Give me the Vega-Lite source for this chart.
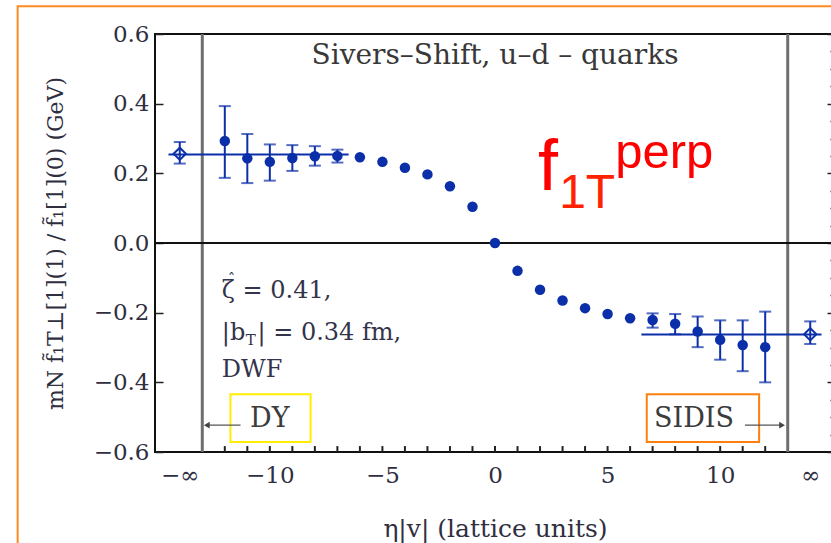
{
  "$schema": "https://vega.github.io/schema/vega-lite/v6.json",
  "width": 680,
  "height": 418,
  "autosize": {"type": "none"},
  "padding": {"left": 155, "top": 34, "right": 0, "bottom": 91},
  "background": "white",
  "config": {
    "view": {"stroke": "#111111", "strokeWidth": 2},
    "axis": {"grid": false, "domain": false, "tickColor": "#222222", "tickWidth": 1.5,
             "labelFont": "DejaVu Serif", "labelColor": "#2f2f3f", "titleFont": "DejaVu Serif",
             "titleFontWeight": "normal", "titleColor": "#2f2f3f", "labelOverlap": false,
             "labelFlush": false, "labelBound": false}
  },
  "datasets": {
    "pts": [
      {"x": -14, "y": 0.256, "lo": 0.228, "hi": 0.290, "kind": "inf"},
      {"x": -12, "y": 0.293, "lo": 0.187, "hi": 0.393, "kind": "lat"},
      {"x": -11, "y": 0.243, "lo": 0.172, "hi": 0.313, "kind": "lat"},
      {"x": -10, "y": 0.233, "lo": 0.179, "hi": 0.283, "kind": "lat"},
      {"x": -9, "y": 0.244, "lo": 0.207, "hi": 0.281, "kind": "lat"},
      {"x": -8, "y": 0.249, "lo": 0.222, "hi": 0.278, "kind": "lat"},
      {"x": -7, "y": 0.250, "lo": 0.231, "hi": 0.268, "kind": "lat"},
      {"x": -6, "y": 0.246, "lo": null, "hi": null, "kind": "lat"},
      {"x": -5, "y": 0.233, "lo": null, "hi": null, "kind": "lat"},
      {"x": -4, "y": 0.216, "lo": null, "hi": null, "kind": "lat"},
      {"x": -3, "y": 0.197, "lo": null, "hi": null, "kind": "lat"},
      {"x": -2, "y": 0.163, "lo": null, "hi": null, "kind": "lat"},
      {"x": -1, "y": 0.104, "lo": null, "hi": null, "kind": "lat"},
      {"x": 0, "y": 0.0, "lo": null, "hi": null, "kind": "lat"},
      {"x": 1, "y": -0.080, "lo": null, "hi": null, "kind": "lat"},
      {"x": 2, "y": -0.134, "lo": null, "hi": null, "kind": "lat"},
      {"x": 3, "y": -0.165, "lo": null, "hi": null, "kind": "lat"},
      {"x": 4, "y": -0.187, "lo": null, "hi": null, "kind": "lat"},
      {"x": 5, "y": -0.204, "lo": null, "hi": null, "kind": "lat"},
      {"x": 6, "y": -0.216, "lo": null, "hi": null, "kind": "lat"},
      {"x": 7, "y": -0.221, "lo": -0.243, "hi": -0.202, "kind": "lat"},
      {"x": 8, "y": -0.232, "lo": -0.262, "hi": -0.204, "kind": "lat"},
      {"x": 9, "y": -0.254, "lo": -0.299, "hi": -0.211, "kind": "lat"},
      {"x": 10, "y": -0.278, "lo": -0.335, "hi": -0.222, "kind": "lat"},
      {"x": 11, "y": -0.293, "lo": -0.368, "hi": -0.222, "kind": "lat"},
      {"x": 12, "y": -0.299, "lo": -0.400, "hi": -0.197, "kind": "lat"},
      {"x": 14, "y": -0.262, "lo": -0.290, "hi": -0.225, "kind": "inf"}
    ]
  },
  "layer": [
    {
      "layer": [
        {
          "data": {"values": [{"x": -21.2, "x2": 16, "y": 0.68, "y2": -0.95}]},
          "mark": {"type": "rect", "fillOpacity": 0, "stroke": "#ff8a1f", "strokeWidth": 2, "clip": false},
          "encoding": {
            "x": {"field": "x", "type": "quantitative",
                  "title": "η|v|  (lattice units)",
                  "scale": {"domain": [-15.1, 15.1], "zero": false, "nice": false},
                  "axis": {
                    "values": [-14, -10, -5, 0, 5, 10, 14],
                    "labelExpr": "datum.value == -14 ? '−∞' : datum.value == 14 ? '∞' : format(datum.value, 'd')",
                    "labelOverlap": false,
                    "ticks": false,
                    "labelFontSize": 23, "labelPadding": 12,
                    "titleFontSize": 25, "titlePadding": 29
                  }},
            "x2": {"field": "x2"},
            "y": {"field": "y", "type": "quantitative",
                  "title": "mN f̃₁T⊥[1](1) / f̃₁[1](0)  (GeV)",
                  "scale": {"domain": [-0.6, 0.6], "zero": false, "nice": false},
                  "axis": {
                    "values": [-0.6, -0.55, -0.5, -0.45, -0.4, -0.35, -0.3, -0.25, -0.2, -0.15, -0.1, -0.05, 0, 0.05, 0.1, 0.15, 0.2, 0.25, 0.3, 0.35, 0.4, 0.45, 0.5, 0.55, 0.6],
                    "labelExpr": "abs(round(datum.value*20)) % 4 == 0 ? format(datum.value, '.1f') : ''",
                    "labelOverlap": false,
                    "tickSize": {"condition": {"test": "abs(round(datum.value*20)) % 4 == 0", "value": -8}, "value": -5},
                    "labelFontSize": 23, "labelPadding": 14,
                    "titleFontSize": 22, "titlePadding": 26
                  }},
            "y2": {"field": "y2"}
          }
        },
        {
          "data": {"values": [{"x": -12}, {"x": -11}, {"x": -10}, {"x": -9}, {"x": -8}, {"x": -7}, {"x": -6}, {"x": -5}, {"x": -4}, {"x": -3}, {"x": -2}, {"x": -1}, {"x": 0}, {"x": 1}, {"x": 2}, {"x": 3}, {"x": 4}, {"x": 5}, {"x": 6}, {"x": 7}, {"x": 8}, {"x": 9}, {"x": 10}, {"x": 11}, {"x": 12}]},
          "mark": {"type": "rule", "color": "#222222", "strokeWidth": 2},
          "encoding": {
            "x": {"field": "x", "type": "quantitative", "title": "η|v|  (lattice units)"},
            "y": {"datum": -0.6, "type": "quantitative", "title": "mN f̃₁T⊥[1](1) / f̃₁[1](0)  (GeV)"},
            "y2": {"datum": -0.583}
          }
        },
        {
          "data": {"values": [{"x": -13}, {"x": 13}]},
          "mark": {"type": "rule", "color": "#6e6e6e", "strokeWidth": 3},
          "encoding": {"x": {"field": "x", "type": "quantitative", "title": "η|v|  (lattice units)"}}
        },
        {
          "data": {"values": [{"y": 0}]},
          "mark": {"type": "rule", "color": "#111111", "strokeWidth": 2},
          "encoding": {"y": {"field": "y", "type": "quantitative", "title": "mN f̃₁T⊥[1](1) / f̃₁[1](0)  (GeV)"}}
        },
        {
          "data": {"values": [{"x": -14.5, "x2": -6.5, "y": 0.254}, {"x": 6.5, "x2": 14.5, "y": -0.263}]},
          "mark": {"type": "rule", "color": "#0b2fa8", "strokeWidth": 2},
          "encoding": {
            "x": {"field": "x", "type": "quantitative", "title": "η|v|  (lattice units)"},
            "x2": {"field": "x2"},
            "y": {"field": "y", "type": "quantitative", "title": "mN f̃₁T⊥[1](1) / f̃₁[1](0)  (GeV)"}
          }
        },
        {
          "data": {"name": "pts"},
          "transform": [{"filter": "datum.lo != null"}],
          "mark": {"type": "errorbar", "color": "#0b2fa8", "thickness": 2, "ticks": {"size": 12, "thickness": 2, "color": "#0b2fa8"}},
          "encoding": {
            "x": {"field": "x", "type": "quantitative", "title": "η|v|  (lattice units)"},
            "y": {"field": "lo", "type": "quantitative", "title": "mN f̃₁T⊥[1](1) / f̃₁[1](0)  (GeV)"},
            "y2": {"field": "hi"}
          }
        },
        {
          "data": {"name": "pts"},
          "transform": [{"filter": "datum.kind == 'lat'"}],
          "mark": {"type": "point", "shape": "circle", "filled": true, "size": 110, "color": "#0b2fa8", "opacity": 1},
          "encoding": {
            "x": {"field": "x", "type": "quantitative", "title": "η|v|  (lattice units)"},
            "y": {"field": "y", "type": "quantitative", "title": "mN f̃₁T⊥[1](1) / f̃₁[1](0)  (GeV)"}
          }
        },
        {
          "data": {"name": "pts"},
          "transform": [{"filter": "datum.kind == 'inf'"}],
          "mark": {"type": "point", "shape": "diamond", "filled": false, "size": 150, "color": "#0b2fa8", "strokeWidth": 2, "opacity": 1},
          "encoding": {
            "x": {"field": "x", "type": "quantitative", "title": "η|v|  (lattice units)"},
            "y": {"field": "y", "type": "quantitative", "title": "mN f̃₁T⊥[1](1) / f̃₁[1](0)  (GeV)"}
          }
        },
        {
          "data": {"values": [
            {"name": "DY", "x": -11.75, "x2": -8.19, "y": -0.434, "y2": -0.571},
            {"name": "SIDIS", "x": 6.74, "x2": 11.73, "y": -0.434, "y2": -0.571}
          ]},
          "mark": {"type": "rect", "fillOpacity": 0, "strokeWidth": 2},
          "encoding": {
            "x": {"field": "x", "type": "quantitative", "title": "η|v|  (lattice units)"},
            "x2": {"field": "x2"},
            "y": {"field": "y", "type": "quantitative", "title": "mN f̃₁T⊥[1](1) / f̃₁[1](0)  (GeV)"},
            "y2": {"field": "y2"},
            "stroke": {"field": "name", "type": "nominal", "scale": {"domain": ["DY", "SIDIS"], "range": ["#ffee00", "#ff7f0e"]}, "legend": null}
          }
        },
        {
          "data": {"values": [
            {"x": -11.3, "x2": -12.8, "y": -0.523},
            {"x": 11.1, "x2": 12.75, "y": -0.523}
          ]},
          "mark": {"type": "rule", "color": "#555555", "strokeWidth": 1.3},
          "encoding": {
            "x": {"field": "x", "type": "quantitative", "title": "η|v|  (lattice units)"},
            "x2": {"field": "x2"},
            "y": {"field": "y", "type": "quantitative", "title": "mN f̃₁T⊥[1](1) / f̃₁[1](0)  (GeV)"}
          }
        },
        {
          "data": {"values": [
            {"x": -12.8, "y": -0.523, "dir": "left"},
            {"x": 12.75, "y": -0.523, "dir": "right"}
          ]},
          "mark": {"type": "point", "filled": true, "size": 45, "color": "#444444", "opacity": 1},
          "encoding": {
            "x": {"field": "x", "type": "quantitative", "title": "η|v|  (lattice units)"},
            "y": {"field": "y", "type": "quantitative", "title": "mN f̃₁T⊥[1](1) / f̃₁[1](0)  (GeV)"},
            "shape": {"field": "dir", "type": "nominal", "scale": {"domain": ["left", "right"], "range": ["triangle-left", "triangle-right"]}, "legend": null}
          }
        },
        {
          "data": {"values": [
            {"x": -10.0, "y": -0.505, "t": "DY"},
            {"x": 8.84, "y": -0.505, "t": "SIDIS"}
          ]},
          "mark": {"type": "text", "font": "DejaVu Serif", "fontSize": 27, "color": "#3c3c3c", "align": "center", "baseline": "middle"},
          "encoding": {
            "x": {"field": "x", "type": "quantitative", "title": "η|v|  (lattice units)"},
            "y": {"field": "y", "type": "quantitative", "title": "mN f̃₁T⊥[1](1) / f̃₁[1](0)  (GeV)"},
            "text": {"field": "t"}
          }
        },
        {
          "data": {"values": [{"x": 0, "y": 0.536, "t": "Sivers–Shift, u–d – quarks"}]},
          "mark": {"type": "text", "font": "DejaVu Serif", "fontSize": 28, "color": "#383838", "align": "center", "baseline": "middle"},
          "encoding": {
            "x": {"field": "x", "type": "quantitative", "title": "η|v|  (lattice units)"},
            "y": {"field": "y", "type": "quantitative", "title": "mN f̃₁T⊥[1](1) / f̃₁[1](0)  (GeV)"},
            "text": {"field": "t"}
          }
        },
        {
          "data": {"values": [
            {"x": -12.13, "y": -0.158, "t": "ζ = 0.41,"},
            {"x": -12.13, "y": -0.278, "t": "|b"},
            {"x": -10.55, "y": -0.278, "t": "| = 0.34 fm,"},
            {"x": -12.13, "y": -0.384, "t": "DWF"}
          ]},
          "mark": {"type": "text", "font": "DejaVu Serif", "fontSize": 24, "color": "#33334a", "align": "left", "baseline": "alphabetic"},
          "encoding": {
            "x": {"field": "x", "type": "quantitative", "title": "η|v|  (lattice units)"},
            "y": {"field": "y", "type": "quantitative", "title": "mN f̃₁T⊥[1](1) / f̃₁[1](0)  (GeV)"},
            "text": {"field": "t"}
          }
        },
        {
          "data": {"values": [{"x": -11.07, "y": -0.292, "t": "T"}, {"x": -11.87, "y": -0.117, "t": "ˆ"}]},
          "mark": {"type": "text", "font": "DejaVu Serif", "fontSize": 15, "color": "#33334a", "align": "left", "baseline": "alphabetic"},
          "encoding": {
            "x": {"field": "x", "type": "quantitative", "title": "η|v|  (lattice units)"},
            "y": {"field": "y", "type": "quantitative", "title": "mN f̃₁T⊥[1](1) / f̃₁[1](0)  (GeV)"},
            "text": {"field": "t"}
          }
        },
        {
          "data": {"values": [{"x": 1.91, "y": 0.153, "t": "f"}]},
          "mark": {"type": "text", "font": "Liberation Sans", "fontSize": 72, "color": "#ff0000", "align": "left", "baseline": "alphabetic"},
          "encoding": {
            "x": {"field": "x", "type": "quantitative", "title": "η|v|  (lattice units)"},
            "y": {"field": "y", "type": "quantitative", "title": "mN f̃₁T⊥[1](1) / f̃₁[1](0)  (GeV)"},
            "text": {"field": "t"}
          }
        },
        {
          "data": {"values": [{"x": 2.85, "y": 0.101, "t": "1T"}]},
          "mark": {"type": "text", "font": "Liberation Sans", "fontSize": 48, "color": "#ff2200", "align": "left", "baseline": "alphabetic"},
          "encoding": {
            "x": {"field": "x", "type": "quantitative", "title": "η|v|  (lattice units)"},
            "y": {"field": "y", "type": "quantitative", "title": "mN f̃₁T⊥[1](1) / f̃₁[1](0)  (GeV)"},
            "text": {"field": "t"}
          }
        },
        {
          "data": {"values": [{"x": 5.34, "y": 0.216, "t": "perp"}]},
          "mark": {"type": "text", "font": "Liberation Sans", "fontSize": 49, "color": "#ff0000", "align": "left", "baseline": "alphabetic"},
          "encoding": {
            "x": {"field": "x", "type": "quantitative", "title": "η|v|  (lattice units)"},
            "y": {"field": "y", "type": "quantitative", "title": "mN f̃₁T⊥[1](1) / f̃₁[1](0)  (GeV)"},
            "text": {"field": "t"}
          }
        }
      ]
    },
    {
      "data": {"values": [{"y": 0}]},
      "mark": {"type": "point", "opacity": 0},
      "encoding": {
        "y": {"field": "y", "type": "quantitative",
              "axis": {"orient": "right", "labels": false, "title": null,
                       "tickSize": {"condition": {"test": "abs(round(datum.value*20)) % 4 == 0", "value": -8}, "value": -5},
                       "values": [-0.6, -0.55, -0.5, -0.45, -0.4, -0.35, -0.3, -0.25, -0.2, -0.15, -0.1, -0.05, 0, 0.05, 0.1, 0.15, 0.2, 0.25, 0.3, 0.35, 0.4, 0.45, 0.5, 0.55, 0.6]}}
      }
    }
  ],
  "resolve": {"axis": {"y": "independent"}}
}
